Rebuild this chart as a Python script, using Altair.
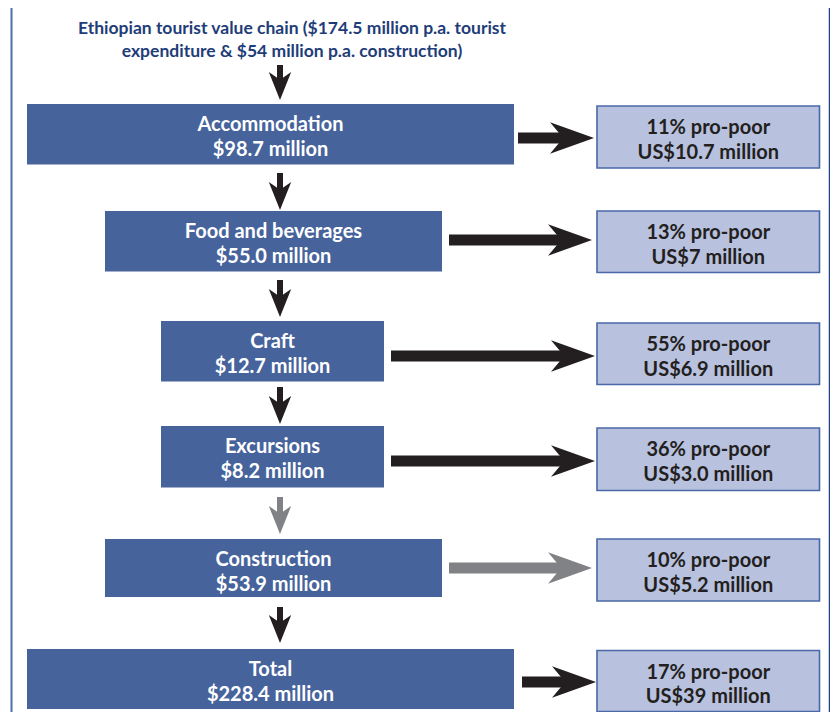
import altair as alt
import pandas as pd

# ---------------- data ----------------
title_lines = ["Ethiopian tourist value chain ($174.5 million p.a. tourist",
               "expenditure & $54 million p.a. construction)"]
stages = ["Accommodation", "Food and beverages", "Craft", "Excursions", "Construction", "Total"]
values_musd = [98.7, 55.0, 12.7, 8.2, 53.9, 228.4]
pro_poor_pct = [11, 13, 55, 36, 10, 17]
pro_poor_usd = ["10.7", "7", "6.9", "3.0", "5.2", "39"]
flow_kind = ["main", "main", "main", "main", "construction", "main"]

# ---------------- layout (pixel positions of the diagram) ----------------
box_x0 = [27, 105, 161, 161, 105, 27]
box_x1 = [514, 442, 384, 384, 442, 514]
box_top = [104, 211, 321, 426, 539, 649]
box_bot = [164.5, 271.5, 381.5, 487.5, 597, 709]
res_x0, res_x1 = 597, 819.5
res_top = [106, 211, 323, 428, 539, 650.5]
res_bot = [168, 272.5, 384.5, 490.5, 601, 711.5]
h_start = [518, 449, 391, 391, 449, 522]
h_tip = [594, 592, 595, 595, 592, 596]
h_y = [138, 240, 356, 461, 568, 682]
v_x = 280
v_top = [65, 173, 280, 387, 497, 607]
v_tip = [100, 210, 317, 424, 534, 643]
v_kind = ["main", "main", "main", "main", "construction", "main"]

BOX_BLUE = "#46639c"
RES_FILL = "#b8c1de"
RES_STROKE = "#4a69a8"
ARROW = {"main": "#231f20", "construction": "#808285"}
NAVY = "#1e3d78"
FONT = "Lato"

HR = 22   # horizontal arrow head half-length
VR = 14   # vertical arrow head half-length

boxes = pd.DataFrame({
    "x0": box_x0, "x1": box_x1, "y0": box_top, "y1": box_bot,
    "xc": [(a + b) / 2 for a, b in zip(box_x0, box_x1)],
    "b1": [t + 26.5 for t in box_top], "b2": [t + 52 for t in box_top],
    "l1": stages,
    "l2": [f"${v:.1f} million" for v in values_musd],
})
results = pd.DataFrame({
    "x0": res_x0, "x1": res_x1, "y0": res_top, "y1": res_bot,
    "xc": (res_x0 + res_x1) / 2,
    "b1": [t + 28 for t in res_top], "b2": [t + 52.5 for t in res_top],
    "l1": [f"{p}% pro-poor" for p in pro_poor_pct],
    "l2": [f"US${u} million" for u in pro_poor_usd],
})
harrows = pd.DataFrame({
    "xs": h_start, "xh": [t - HR for t in h_tip], "y": h_y,
    "col": [ARROW[k] for k in flow_kind],
})
varrows = pd.DataFrame({
    "x": v_x, "ys": v_top, "yh": [t - VR for t in v_tip],
    "col": [ARROW[k] for k in v_kind],
})
title_df = pd.DataFrame({"x": 292, "y": [33.5, 56.5], "t": title_lines})
frame_df = pd.DataFrame({"x": [11.5, 829.5], "y0": 8, "y1": 712,
                         "col": ["#4b72ad", "#1f438a"], "w": [2, 1.5]})

xs = alt.Scale(domain=[8, 830], nice=False, zero=False)
ys = alt.Scale(domain=[8, 712], nice=False, zero=False, reverse=True)
X = lambda f: alt.X(f, type="quantitative", scale=xs, axis=None)
Y = lambda f: alt.Y(f, type="quantitative", scale=ys, axis=None)

frame = alt.Chart(frame_df).mark_rule().encode(
    x=X("x"), y=Y("y0"), y2="y1",
    color=alt.Color("col:N", scale=None),
    strokeWidth=alt.StrokeWidth("w:Q", scale=None))

box_rect = alt.Chart(boxes).mark_rect(color=BOX_BLUE).encode(
    x=X("x0"), x2="x1", y=Y("y0"), y2="y1")
res_rect = alt.Chart(results).mark_rect(fill=RES_FILL, stroke=RES_STROKE, strokeWidth=1.6).encode(
    x=X("x0"), x2="x1", y=Y("y0"), y2="y1")

def txt(df, line, base, color, size):
    return alt.Chart(df).mark_text(font=FONT, fontWeight="bold", fontSize=size, color=color,
                                   align="center", baseline="alphabetic").encode(
        x=X("xc"), y=Y(base), text=f"{line}:N")

box_t1 = txt(boxes, "l1", "b1", "white", 20)
box_t2 = txt(boxes, "l2", "b2", "white", 20)
res_t1 = txt(results, "l1", "b1", "#231f20", 20)
res_t2 = txt(results, "l2", "b2", "#231f20", 20)

title = alt.Chart(title_df).mark_text(font=FONT, fontWeight="bold", fontSize=17.5, color=NAVY,
                                      align="center", baseline="alphabetic").encode(
    x=X("x"), y=Y("y"), text="t:N")

h_shaft = alt.Chart(harrows).mark_rule(strokeWidth=11, strokeCap="butt").encode(
    x=X("xs"), x2="xh", y=Y("y"), color=alt.Color("col:N", scale=None))
h_head = alt.Chart(harrows).mark_point(
    shape="M1,0L-1,-0.72L-0.4,0L-1,0.72Z", filled=True, opacity=1, size=(2 * HR) ** 2,
    strokeWidth=0).encode(
    x=X("xh"), y=Y("y"), color=alt.Color("col:N", scale=None))

v_shaft = alt.Chart(varrows).mark_rule(strokeWidth=6, strokeCap="butt").encode(
    x=X("x"), y=Y("ys"), y2="yh", color=alt.Color("col:N", scale=None))
v_head = alt.Chart(varrows).mark_point(
    shape="M0,1L-0.8,-1L0,-0.45L0.8,-1Z", filled=True, opacity=1, size=(2 * VR) ** 2,
    strokeWidth=0).encode(
    x=X("x"), y=Y("yh"), color=alt.Color("col:N", scale=None))

chart = alt.layer(
    frame, box_rect, res_rect, h_shaft, h_head, v_shaft, v_head,
    box_t1, box_t2, res_t1, res_t2, title
).properties(
    width=822, height=704, padding=0, autosize=alt.AutoSizeParams(type="none"),
    background="white"
).configure_view(stroke=None)

chart.save("out.html", embed_options={"renderer": "svg", "actions": False})
